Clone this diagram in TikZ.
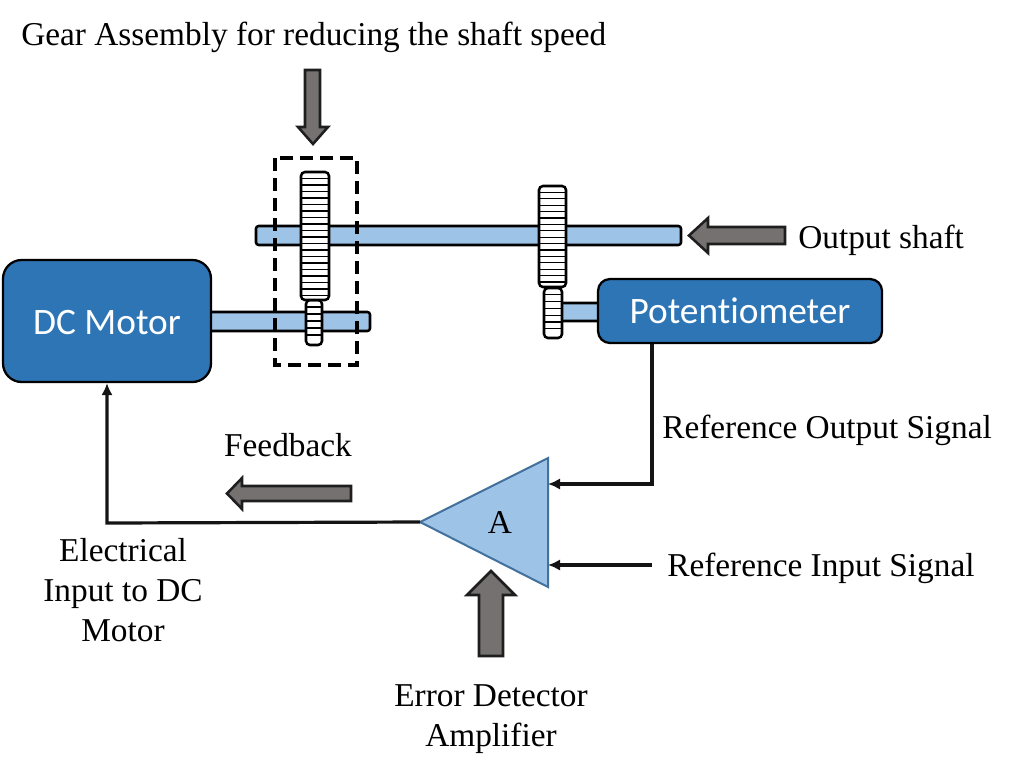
\documentclass[tikz,border=0pt]{standalone}
\usepackage{fontspec}
\setmainfont{Liberation Serif}
\newfontfamily\calfont[Ligatures=NoCommon]{Carlito}
\usetikzlibrary{arrows.meta,calc}
\tikzset{
  x=0.75pt,y=-0.75pt,
  lab/.style={font=\fontsize{25}{30}\selectfont,align=center,inner sep=0pt,text=black},
  shaftbar/.style={draw=black,line width=1.9pt,fill=shaftblue,rounded corners=2pt},
  gearbody/.style={draw=black,line width=1.9pt,fill=white,rounded corners=3pt},
  tooth/.style={draw=black,line width=1pt},
  boxtext/.style={text=white,font=\calfont\fontsize{28}{32}\selectfont,inner sep=0pt},
  boxblue/.style={draw=black,line width=1.7pt,fill=boxfill,boxtext},
  block/.style={draw=arrowedge,line width=1.9pt,fill=arrowgrey,miter limit=10},
  conn/.style={draw=linec,line width=2.4pt},
  connarrow/.style={conn,-{Latex[length=9pt,width=8.5pt]}},
}
\definecolor{shaftblue}{RGB}{157,195,230}
\definecolor{boxfill}{RGB}{46,117,182}
\definecolor{arrowgrey}{RGB}{118,113,113}
\definecolor{arrowedge}{RGB}{30,30,30}
\definecolor{linec}{RGB}{20,20,20}
\definecolor{triedge}{RGB}{65,113,156}
\newcommand{\gearblock}[5]{% x1,y1,x2,y2,step
  \draw[gearbody] (#1,#2) rectangle (#3,#4);
  \pgfmathsetmacro{\gstart}{#2+#5}
  \pgfmathsetmacro{\gnext}{#2+2*#5}
  \pgfmathsetmacro{\gstop}{#4-0.5*#5}
  \foreach \yy in {\gstart,\gnext,...,\gstop} \draw[tooth] (#1,\yy) -- (#3,\yy);
}
\begin{document}
\begin{tikzpicture}
\useasboundingbox (0,0) rectangle (1012,775);
% shafts
\draw[shaftbar] (256,226) rectangle (681,245);
\draw[shaftbar] (205,312) rectangle (370,331);
\draw[shaftbar] (556,303) rectangle (604,321);
% gears
\gearblock{306}{300}{322}{345}{7}
\gearblock{301}{172}{329}{300}{6.5}
\gearblock{544}{288}{562}{338}{6.8}
\gearblock{539}{186}{566}{287}{6.4}
% boxes
\node[boxblue,rounded corners=14pt,minimum width=156pt,minimum height=91.5pt] (motor) at (107,321) {};
\node[boxtext] (motorlabel) at (107,323) {DC Motor};
\node[boxblue,rounded corners=9pt,minimum width=213pt,minimum height=48pt] (pot) at (740,311) {Potentiometer};
% dashed box
\draw[black,line width=2.4pt,dash pattern=on 10pt off 5pt] (275,158) rectangle (357,365);
% amplifier
\coordinate (ampout) at (420,522);
\coordinate (amptop) at (548,458);
\coordinate (ampbot) at (548,587);
\draw[draw=triedge,line width=1.5pt,fill=shaftblue,line join=miter] (ampout) -- (amptop) -- (ampbot) -- cycle;
\node[lab] (ampA) at (500,522) {A};
% connectors
\coordinate (potdrop) at (652,484);
\coordinate (refin) at (652,565);
\coordinate (refoutin) at (548,484);
\coordinate (refinin) at (548,565);
\coordinate (corner) at (107,523);
\draw[connarrow] (pot.south -| potdrop) -- (potdrop) -- (refoutin);
\draw[connarrow] (refin) -- (refinin);
\draw[connarrow] (ampout) -- (corner) -- (motor.south -| corner);
% block arrows
\draw[block] (305,70) -- (320,70) -- (320,127) -- (328,127) -- (313,144) -- (298,127) -- (305,127) -- cycle;
\draw[block] (785,227) -- (708,227) -- (708,218) -- (689,235.5) -- (708,253) -- (708,244) -- (785,244) -- cycle;
\draw[block] (351,486) -- (242,486) -- (242,478) -- (227,493.5) -- (242,509) -- (242,501) -- (351,501) -- cycle;
\draw[block] (479,656) -- (479,595) -- (467,595) -- (491,571) -- (515,595) -- (503,595) -- (503,656) -- cycle;
% labels
\node[lab,anchor=base west] (t1) at (21,45) {Gear Assembly for reducing the shaft speed};
\node[lab,anchor=base west] (t2) at (798,248) {Output shaft};
\node[lab,anchor=base west] (t3) at (662,438) {Reference Output Signal};
\node[lab,anchor=base west] (t4) at (667,576) {Reference Input Signal};
\node[lab,anchor=base] (t5) at (288,456) {Feedback};
\node[lab] (t6) at (123,590) {Electrical\\Input to DC\\Motor};
\node[lab] (t7) at (491,719) {Error Detector\\Amplifier};
\end{tikzpicture}
\end{document}
